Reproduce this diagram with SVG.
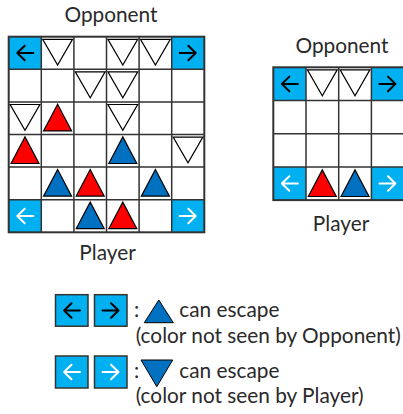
<svg xmlns="http://www.w3.org/2000/svg" width="403" height="414" viewBox="0 0 403 414">
<style>
.t{font-family:Lato,"Noto Sans","DejaVu Sans",sans-serif;font-size:20.8px;font-weight:400;fill:#2a2a2a}
.cy{fill:#00B0F0}
.gl{stroke:#333;stroke-width:1.5;fill:none}
.ab{stroke:#000;stroke-width:2;fill:none;stroke-linecap:round;stroke-linejoin:round}
.aw{stroke:#fff;stroke-width:2;fill:none;stroke-linecap:round;stroke-linejoin:round}
.tr{stroke:#000;stroke-width:1.2;stroke-linejoin:miter}
</style>
<defs>
<polygon id="up" points="2.3,29 16.3,2.4 30.3,29"/>
<polygon id="dn" points="1.4,2.6 31.2,2.6 16.3,28.4"/>
<path id="la" d="M8.6,16.3 H24.6 M16,9 L8.6,16.3 L16,23.6"/>
<path id="ra" d="M8,16.3 H24 M16.6,9 L24,16.3 L16.6,23.6"/>
</defs>
<g id="main-board">
<g id="main-cells">
<rect class="cy" x="8.7" y="36.7" width="32.6" height="32.6"/>
<rect class="cy" x="171.7" y="36.7" width="32.6" height="32.6"/>
<rect class="cy" x="8.7" y="199.7" width="32.6" height="32.6"/>
<rect class="cy" x="171.7" y="199.7" width="32.6" height="32.6"/>
</g>
<g id="main-grid" class="gl">
<rect x="8.7" y="36.7" width="195.6" height="195.6" stroke-width="2"/>
<path d="M41.3,36.7V232.3M73.9,36.7V232.3M106.5,36.7V232.3M139.1,36.7V232.3M171.7,36.7V232.3M8.7,69.3H204.3M8.7,101.9H204.3M8.7,134.5H204.3M8.7,167.1H204.3M8.7,199.7H204.3"/>
</g>
<g id="main-arrows">
<use href="#la" class="ab" x="8.7" y="36.7"/>
<use href="#ra" class="ab" x="171.7" y="36.7"/>
<use href="#la" class="aw" x="8.7" y="199.7"/>
<use href="#ra" class="aw" x="171.7" y="199.7"/>
</g>
<g id="main-pieces" class="tr">
<use href="#dn" fill="#fff" x="41.3" y="36.7"/>
<use href="#dn" fill="#fff" x="106.5" y="36.7"/>
<use href="#dn" fill="#fff" x="139.1" y="36.7"/>
<use href="#dn" fill="#fff" x="73.9" y="69.3"/>
<use href="#dn" fill="#fff" x="106.5" y="69.3"/>
<use href="#dn" fill="#fff" x="8.7" y="101.9"/>
<use href="#up" fill="#FF0000" x="41.3" y="101.9"/>
<use href="#dn" fill="#fff" x="106.5" y="101.9"/>
<use href="#up" fill="#FF0000" x="8.7" y="134.5"/>
<use href="#up" fill="#0070C0" x="106.5" y="134.5"/>
<use href="#dn" fill="#fff" x="171.7" y="134.5"/>
<use href="#up" fill="#0070C0" x="41.3" y="167.1"/>
<use href="#up" fill="#FF0000" x="73.9" y="167.1"/>
<use href="#up" fill="#0070C0" x="139.1" y="167.1"/>
<use href="#up" fill="#0070C0" x="73.9" y="199.7"/>
<use href="#up" fill="#FF0000" x="106.5" y="199.7"/>
</g>
<text class="t" x="111" y="22" text-anchor="middle">Opponent</text>
<text class="t" x="107.5" y="260" text-anchor="middle">Player</text>
</g>
<g id="small-board">
<g id="small-cells">
<rect class="cy" x="273.3" y="67.3" width="32.7" height="33.2"/>
<rect class="cy" x="371.4" y="67.3" width="32.7" height="33.2"/>
<rect class="cy" x="273.3" y="166.9" width="32.7" height="33.2"/>
<rect class="cy" x="371.4" y="166.9" width="32.7" height="33.2"/>
</g>
<g id="small-grid" class="gl">
<rect x="273.3" y="67.3" width="130.8" height="132.8" stroke-width="2"/>
<path d="M306,67.3V200.1M338.7,67.3V200.1M371.4,67.3V200.1M273.3,100.5H404M273.3,133.7H404M273.3,166.9H404"/>
</g>
<g id="small-arrows">
<use href="#la" class="ab" x="273.3" y="67.6"/>
<use href="#ra" class="ab" x="371.4" y="67.6"/>
<use href="#la" class="aw" x="273.3" y="167.2"/>
<use href="#ra" class="aw" x="371.4" y="167.2"/>
</g>
<g id="small-pieces" class="tr">
<use href="#dn" fill="#fff" x="306" y="67.3"/>
<use href="#dn" fill="#fff" x="338.7" y="67.3"/>
<use href="#up" fill="#FF0000" x="306" y="167.5"/>
<use href="#up" fill="#0070C0" x="338.7" y="167.5"/>
</g>
<text class="t" x="342" y="53" text-anchor="middle">Opponent</text>
<text class="t" x="341" y="231" text-anchor="middle">Player</text>
</g>
<g id="legend-1">
<rect class="cy" x="55.5" y="294.7" width="32.5" height="31.5" stroke="#333" stroke-width="1.5"/>
<rect class="cy" x="94.5" y="294.7" width="32.5" height="31.5" stroke="#333" stroke-width="1.5"/>
<use href="#la" class="ab" x="55.5" y="294.2"/>
<use href="#ra" class="ab" x="94.5" y="294.2"/>
<text class="t" x="134" y="317">:</text>
<polygon points="144.3,322.7 158.8,300 173.3,322.7" fill="#0070C0" stroke="#000" stroke-width="1"/>
<text class="t" x="179.3" y="317">can escape</text>
<text class="t" x="135.7" y="343">(color not seen by Opponent)</text>
</g>
<g id="legend-2">
<rect class="cy" x="55.5" y="356" width="32.5" height="32" stroke="#333" stroke-width="1.5"/>
<rect class="cy" x="94.5" y="356" width="32.5" height="32" stroke="#333" stroke-width="1.5"/>
<use href="#la" class="aw" x="55.5" y="355.7"/>
<use href="#ra" class="aw" x="94.5" y="355.7"/>
<text class="t" x="134" y="378">:</text>
<polygon points="141,360 172.7,360 156.8,386.7" fill="#0070C0" stroke="#000" stroke-width="1"/>
<text class="t" x="179.3" y="378">can escape</text>
<text class="t" x="135.7" y="403">(color not seen by Player)</text>
</g>
</svg>
